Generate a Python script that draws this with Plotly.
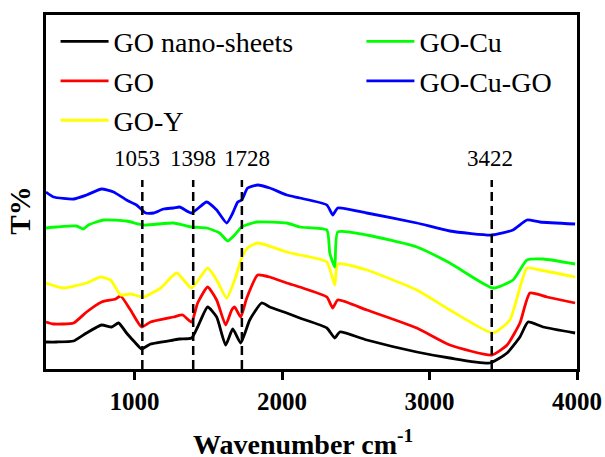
import plotly.graph_objects as go

# ---- data (transmittance in arbitrary offset units) ----
go_ns_wn = [400, 471, 587, 675, 777, 845, 892, 946, 1007, 1048, 1109, 1265, 1306, 1387, 1428, 1496, 1557, 1618, 1666, 1720, 1781, 1862, 1917, 2032, 2120, 2304, 2358, 2392, 2575, 2914, 3138, 3409, 3526, 3613, 3668, 3770, 3987]
go_ns_t = [27, 27, 28, 36, 44, 42, 46, 36, 26, 20, 25, 29, 30, 31, 42, 62, 52, 24, 40, 26, 49, 66, 62, 56, 51, 41, 31, 37, 29, 17, 11, 6, 16, 32, 47, 42, 36]

go_wn = [400, 451, 587, 675, 777, 872, 906, 973, 1048, 1109, 1265, 1326, 1387, 1428, 1496, 1557, 1618, 1659, 1679, 1720, 1761, 1835, 1917, 2032, 2120, 2304, 2344, 2378, 2575, 2914, 3138, 3423, 3526, 3613, 3681, 3796, 3987]
go_t = [47, 45, 46, 57, 67, 70, 73, 59, 42, 47, 52, 54, 47, 66, 82, 69, 44, 59, 62, 52, 71, 94, 92, 86, 82, 72, 61, 69, 59, 41, 24, 14, 24, 46, 76, 72, 66]

go_y_wn = [400, 519, 675, 770, 838, 906, 973, 1062, 1177, 1286, 1387, 1496, 1557, 1625, 1679, 1727, 1767, 1835, 2032, 2120, 2304, 2358, 2378, 2575, 2914, 3138, 3430, 3545, 3661, 3749, 3987]
go_y_t = [86, 81, 86, 92, 89, 74, 75, 72, 81, 96, 81, 101, 89, 71, 89, 111, 121, 126, 117, 114, 107, 84, 105, 99, 79, 59, 36, 49, 101, 99, 92]

go_cu_wn = [400, 471, 607, 654, 688, 790, 946, 1062, 1265, 1387, 1489, 1577, 1632, 1679, 1727, 1829, 2032, 2120, 2304, 2324, 2358, 2378, 2575, 2914, 3138, 3430, 3566, 3661, 3770, 3987]
go_cu_t = [141, 142, 143, 140, 144, 149, 148, 144, 146, 142, 141, 136, 128, 134, 142, 147, 146, 142, 139, 116, 102, 137, 134, 122, 106, 81, 89, 109, 110, 105]

go_cu_go_wn = [400, 451, 587, 675, 777, 858, 946, 1014, 1075, 1129, 1197, 1265, 1306, 1387, 1489, 1557, 1625, 1666, 1700, 1727, 1767, 1835, 1917, 2032, 2120, 2304, 2344, 2378, 2575, 2914, 3138, 3423, 3566, 3661, 3749, 3987]
go_cu_go_t = [177, 172, 170, 174, 180, 177, 169, 164, 156, 156, 160, 161, 162, 156, 167, 159, 146, 156, 167, 169, 181, 184, 181, 174, 171, 164, 154, 161, 156, 146, 138, 134, 139, 149, 147, 145]

series_names = ["GO nano-sheets", "GO", "GO-Y", "GO-Cu", "GO-Cu-GO"]
series_colors = ["#000000", "#ff0000", "#ffff00", "#00ff00", "#0000ff"]
series_legend = ["legend", "legend", "legend", "legend2", "legend2"]

peak_positions = [1053, 1398, 1728, 3422]
peak_labels = ["1053", "1398", "1728", "3422"]
peak_label_shift = [-5, 0, 5, -2]
peak_line_top = 189

x_tick_vals = [1000, 2000, 3000, 4000]
x_tick_text = ["1000", "2000", "3000", "4000"]

wn_data = [go_ns_wn, go_wn, go_y_wn, go_cu_wn, go_cu_go_wn]
t_data = [go_ns_t, go_t, go_y_t, go_cu_t, go_cu_go_t]

SERIF = "Liberation Serif"

fig = go.Figure()
for name, color, lg, wn, t in zip(series_names, series_colors, series_legend, wn_data, t_data):
    fig.add_trace(go.Scatter(
        x=wn, y=t, mode="lines", name=name, legend=lg,
        line=dict(color=color, width=2.8, shape="spline", smoothing=0.5),
    ))

for pos, lab, sh in zip(peak_positions, peak_labels, peak_label_shift):
    fig.add_shape(type="line", xref="x", yref="y", x0=pos, x1=pos, y0=0, y1=peak_line_top,
                  line=dict(color="black", width=2.5, dash="9px,5px"))
    fig.add_annotation(x=pos, y=peak_line_top + 22, xref="x", yref="y", text=lab,
                       showarrow=False, xshift=sh,
                       font=dict(family=SERIF, size=23, color="black"))

fig.add_annotation(x=0.484, y=-0.208, xref="paper", yref="paper",
                   xanchor="center", yanchor="middle",
                   text="<b>Wavenumber cm<sup>-1</sup></b>", showarrow=False,
                   font=dict(family=SERIF, size=28, color="black"))
fig.add_annotation(x=-0.048, y=0.446, xref="paper", yref="paper",
                   xanchor="center", yanchor="middle",
                   text="<b>T%</b>", textangle=-90, showarrow=False,
                   font=dict(family=SERIF, size=29, color="black"))

legend_style = dict(font=dict(family=SERIF, size=28, color="black"),
                    bgcolor="rgba(0,0,0,0)", borderwidth=0, itemwidth=48,
                    orientation="v", xanchor="left", yanchor="top")

fig.update_layout(
    width=605, height=457,
    margin=dict(l=46, r=28, t=15, b=88, autoexpand=False),
    paper_bgcolor="white", plot_bgcolor="white",
    showlegend=True,
    legend=dict(x=0.018, y=0.995, **legend_style),
    legend2=dict(x=0.594, y=0.995, **legend_style),
    xaxis=dict(range=[400, 4000], tickvals=x_tick_vals, ticktext=x_tick_text,
               automargin=False,
               ticks="outside", ticklen=8, tickwidth=2.5, tickcolor="black",
               showline=True, linecolor="black", linewidth=2.5, mirror=True,
               showgrid=False, zeroline=False,
               tickfont=dict(family=SERIF, size=25, color="black", weight="bold")),
    yaxis=dict(range=[0, 354], showticklabels=False, ticks="", automargin=False,
               showline=True, linecolor="black", linewidth=2.5, mirror=True,
               showgrid=False, zeroline=False),
)

fig.write_html(
    "out.html",
    config={"displayModeBar": False},
    post_script=(
        "document.body.style.margin='0';"
        "document.body.style.overflow='hidden';"
        "document.documentElement.style.overflow='hidden';"
    ),
)
